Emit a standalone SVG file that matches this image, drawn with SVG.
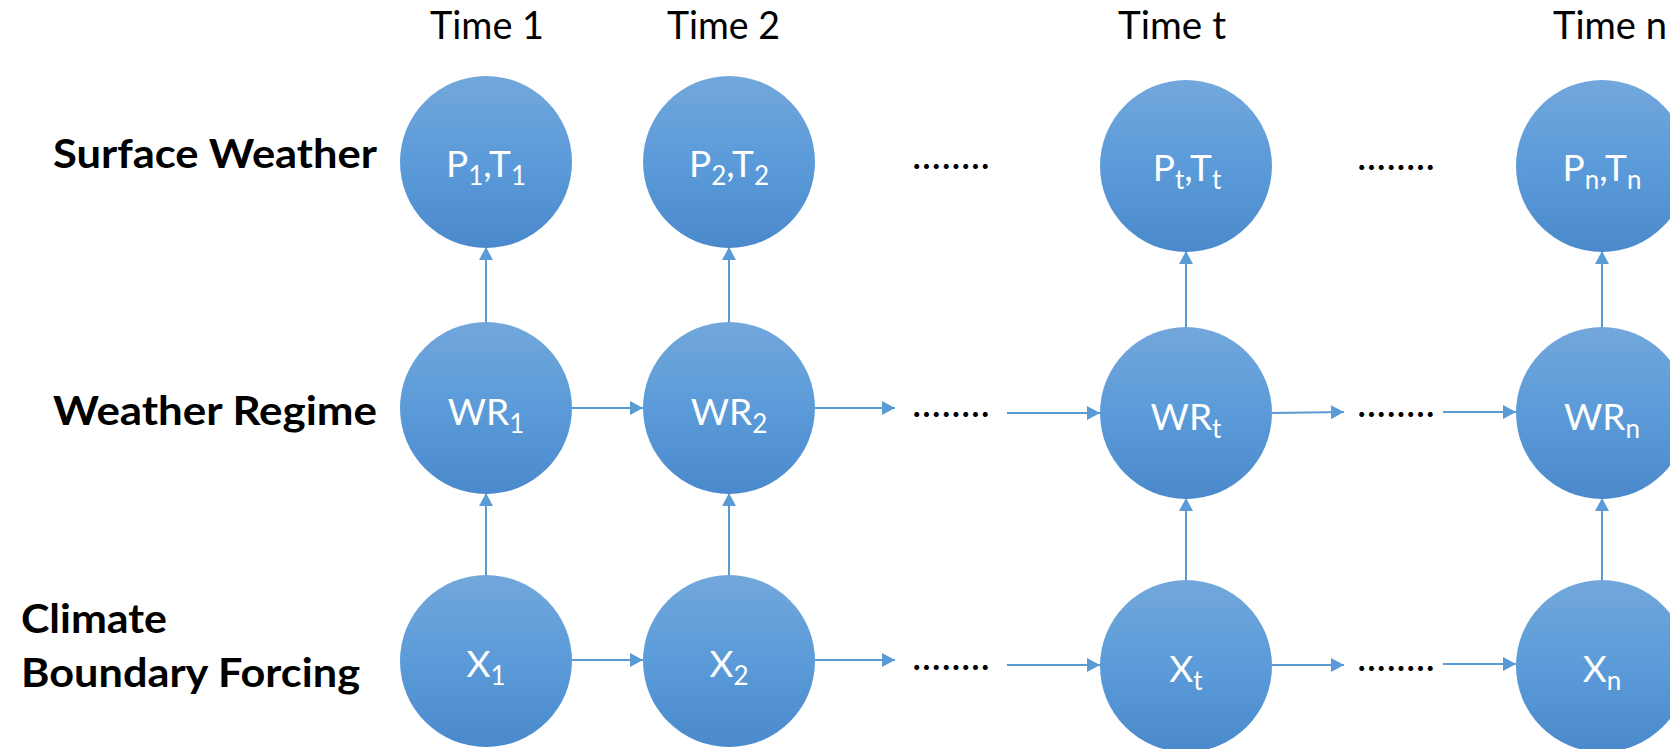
<svg xmlns="http://www.w3.org/2000/svg" width="1670" height="749" viewBox="0 0 1670 749">
<style>
.node{fill:url(#g)}
.lab{font-family:Lato,"Open Sans",sans-serif;fill:#fff;font-size:37px;text-anchor:middle}
.sub{font-size:26px}
.time{font-family:Lato,"Open Sans",sans-serif;font-size:38px;fill:#000}
.row{font-family:Lato,"Open Sans",sans-serif;font-size:40px;font-weight:bold;fill:#000}
.dots{font-family:Lato,"Open Sans",sans-serif;font-size:40px;fill:#000}
.c{stroke:#5B9BD5;stroke-width:2;fill:none;marker-end:url(#a)}
</style>
<defs>
<linearGradient id="g" x1="0" y1="0" x2="0" y2="1">
<stop offset="0" stop-color="#72A7DB"/>
<stop offset="0.5" stop-color="#5B9BD9"/>
<stop offset="1" stop-color="#4A8ACC"/>
</linearGradient>
<marker id="a" markerUnits="userSpaceOnUse" markerWidth="14" markerHeight="14" refX="13" refY="7" orient="auto">
<path d="M0,0 L13,7 L0,14 Z" fill="#5B9BD5"/>
</marker>
</defs>
<rect width="1670" height="749" fill="#fff"/>
<g id="labels">
<text class="time" x="430" y="39" textLength="114" lengthAdjust="spacingAndGlyphs">Time 1</text>
<text class="time" x="667" y="39" textLength="113" lengthAdjust="spacingAndGlyphs">Time 2</text>
<text class="time" x="1118" y="39" textLength="108" lengthAdjust="spacingAndGlyphs">Time t</text>
<text class="time" x="1553" y="39" textLength="114" lengthAdjust="spacingAndGlyphs">Time n</text>
<text class="row" x="53" y="168" textLength="324" lengthAdjust="spacingAndGlyphs">Surface Weather</text>
<text class="row" x="53" y="425" textLength="324" lengthAdjust="spacingAndGlyphs">Weather Regime</text>
<text class="row" x="21" y="633" textLength="146" lengthAdjust="spacingAndGlyphs">Climate</text>
<text class="row" x="21" y="687" textLength="339" lengthAdjust="spacingAndGlyphs">Boundary Forcing</text>
</g>
<g id="dots">
<text class="dots" x="912" y="169" textLength="78" lengthAdjust="spacing">........</text>
<text class="dots" x="1357" y="170" textLength="78" lengthAdjust="spacing">........</text>
<text class="dots" x="912" y="417" textLength="78" lengthAdjust="spacing">........</text>
<text class="dots" x="1357" y="417" textLength="78" lengthAdjust="spacing">........</text>
<text class="dots" x="912" y="670" textLength="78" lengthAdjust="spacing">........</text>
<text class="dots" x="1357" y="671" textLength="78" lengthAdjust="spacing">........</text>
</g>
<g id="connectors">
<line class="c" x1="486" y1="323" x2="486" y2="247"/>
<line class="c" x1="486" y1="576" x2="486" y2="493"/>
<line class="c" x1="729" y1="323" x2="729" y2="247"/>
<line class="c" x1="729" y1="576" x2="729" y2="493"/>
<line class="c" x1="1186" y1="327" x2="1186" y2="251"/>
<line class="c" x1="1186" y1="580" x2="1186" y2="498"/>
<line class="c" x1="1602" y1="327" x2="1602" y2="251"/>
<line class="c" x1="1602" y1="580" x2="1602" y2="498"/>
<line class="c" x1="572" y1="408" x2="643" y2="408"/>
<line class="c" x1="815" y1="408" x2="895" y2="408"/>
<line class="c" x1="1007" y1="413" x2="1100" y2="413"/>
<line class="c" x1="1272" y1="413" x2="1344" y2="412"/>
<line class="c" x1="1443" y1="412" x2="1516" y2="412"/>
<line class="c" x1="572" y1="660" x2="643" y2="660"/>
<line class="c" x1="815" y1="660" x2="895" y2="660"/>
<line class="c" x1="1007" y1="665" x2="1100" y2="665"/>
<line class="c" x1="1272" y1="665" x2="1344" y2="665"/>
<line class="c" x1="1443" y1="664" x2="1516" y2="664"/>
</g>
<g id="P1"><circle class="node" cx="486" cy="162" r="86"/><text class="lab" x="486" y="177">P<tspan class="sub" dy="8">1</tspan><tspan dy="-8">,T</tspan><tspan class="sub" dy="8">1</tspan></text></g>
<g id="P2"><circle class="node" cx="729" cy="162" r="86"/><text class="lab" x="729" y="177">P<tspan class="sub" dy="8">2</tspan><tspan dy="-8">,T</tspan><tspan class="sub" dy="8">2</tspan></text></g>
<g id="Pt"><circle class="node" cx="1186" cy="166" r="86"/><text class="lab" x="1187" y="181">P<tspan class="sub" dy="8">t</tspan><tspan dy="-8">,T</tspan><tspan class="sub" dy="8">t</tspan></text></g>
<g id="Pn"><circle class="node" cx="1602" cy="166" r="86"/><text class="lab" x="1602" y="181">P<tspan class="sub" dy="8">n</tspan><tspan dy="-8">,T</tspan><tspan class="sub" dy="8">n</tspan></text></g>
<g id="WR1"><circle class="node" cx="486" cy="408" r="86"/><text class="lab" x="486" y="425">WR<tspan class="sub" dy="8">1</tspan></text></g>
<g id="WR2"><circle class="node" cx="729" cy="408" r="86"/><text class="lab" x="729" y="425">WR<tspan class="sub" dy="8">2</tspan></text></g>
<g id="WRt"><circle class="node" cx="1186" cy="413" r="86"/><text class="lab" x="1186" y="430">WR<tspan class="sub" dy="8">t</tspan></text></g>
<g id="WRn"><circle class="node" cx="1602" cy="413" r="86"/><text class="lab" x="1602" y="430">WR<tspan class="sub" dy="8">n</tspan></text></g>
<g id="X1"><circle class="node" cx="486" cy="661" r="86"/><text class="lab" x="486" y="677">X<tspan class="sub" dy="8">1</tspan></text></g>
<g id="X2"><circle class="node" cx="729" cy="661" r="86"/><text class="lab" x="729" y="677">X<tspan class="sub" dy="8">2</tspan></text></g>
<g id="Xt"><circle class="node" cx="1186" cy="666" r="86"/><text class="lab" x="1186" y="682">X<tspan class="sub" dy="8">t</tspan></text></g>
<g id="Xn"><circle class="node" cx="1602" cy="666" r="86"/><text class="lab" x="1602" y="682">X<tspan class="sub" dy="8">n</tspan></text></g>
</svg>
